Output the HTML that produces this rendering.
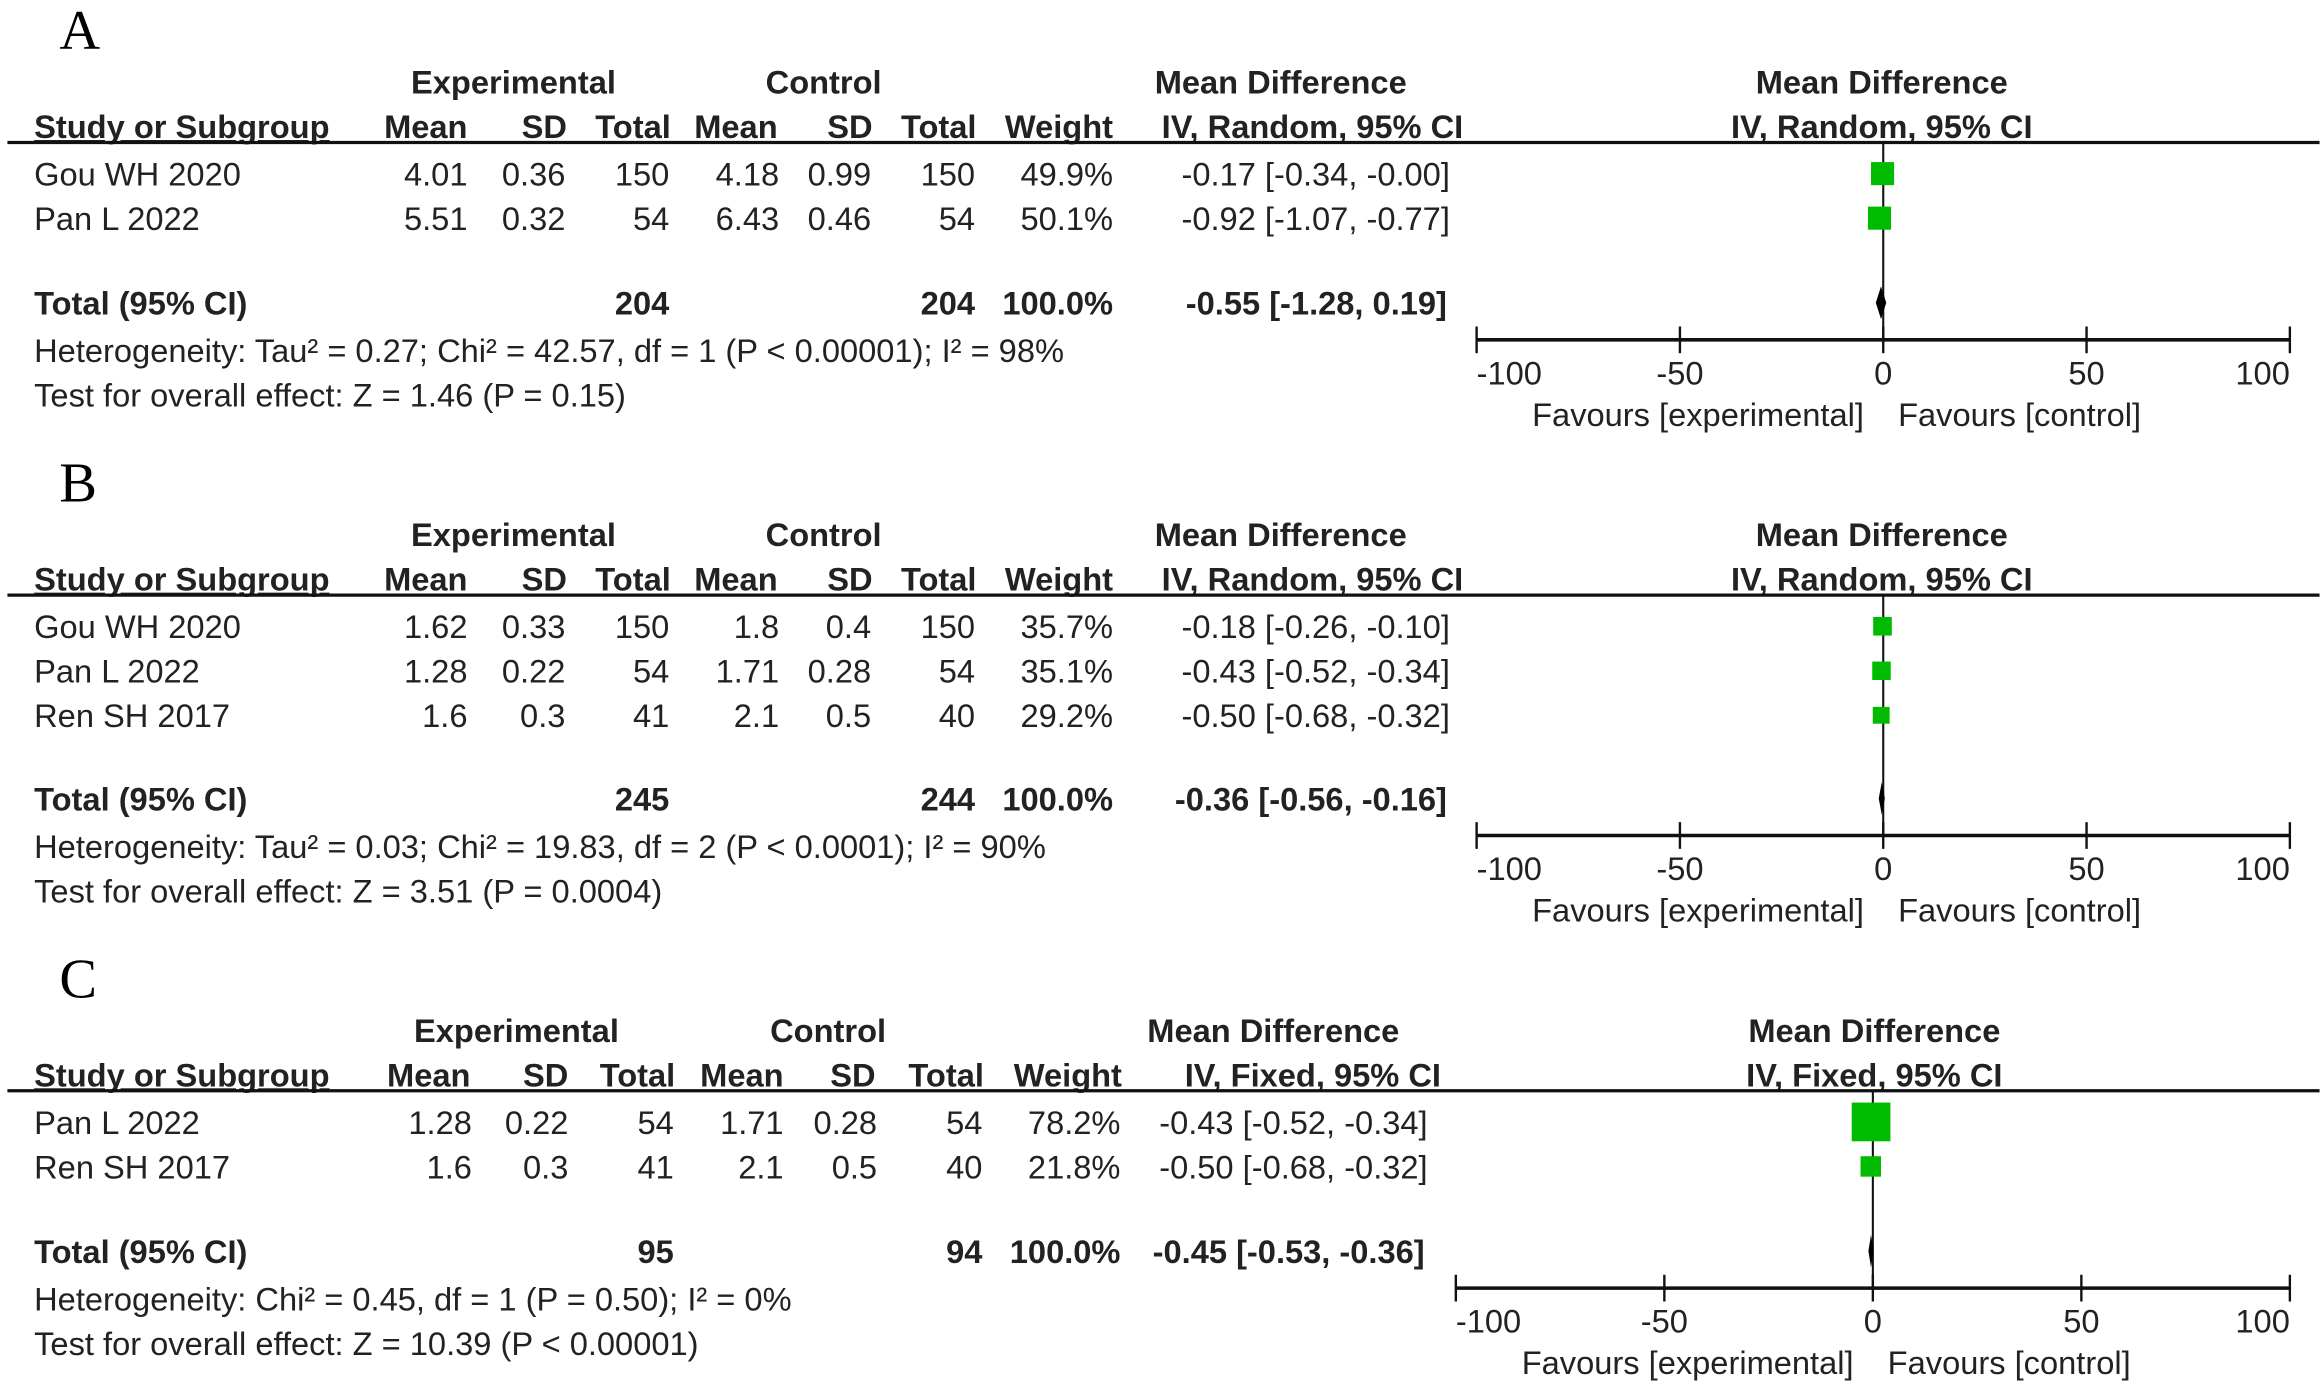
<!DOCTYPE html>
<html><head><meta charset="utf-8">
<style>
html,body{margin:0;padding:0;background:#fff;}
svg{display:block;}
text{font-family:"Liberation Sans",Arial,sans-serif;fill:#222;font-size:22px;}
.b{font-weight:bold;}
.lab{font-family:"Liberation Serif",serif;font-size:38px;fill:#000;}
</style></head>
<body>
<svg id="chart" width="2324" height="1384" viewBox="0 0 1566 932.6" preserveAspectRatio="none" xmlns="http://www.w3.org/2000/svg"></svg>
<script>
// ---- Panel A data ----
const studiesA = ["Gou WH 2020","Pan L 2022"];
const expMeanA = ["4.01","5.51"], expSdA = ["0.36","0.32"], expNA = ["150","54"];
const ctlMeanA = ["4.18","6.43"], ctlSdA = ["0.99","0.46"], ctlNA = ["150","54"];
const weightA = [49.9, 50.1];
const mdA = [-0.17, -0.92], loA = [-0.34, -1.07], hiA = [-0.00, -0.77];
const totalA = {md:-0.55, lo:-1.28, hi:0.19, ne:"204", nc:"204"};
const hetA = "Heterogeneity: Tau² = 0.27; Chi² = 42.57, df = 1 (P < 0.00001); I² = 98%";
const testA = "Test for overall effect: Z = 1.46 (P = 0.15)";
// ---- Panel B data ----
const studiesB = ["Gou WH 2020","Pan L 2022","Ren SH 2017"];
const expMeanB = ["1.62","1.28","1.6"], expSdB = ["0.33","0.22","0.3"], expNB = ["150","54","41"];
const ctlMeanB = ["1.8","1.71","2.1"], ctlSdB = ["0.4","0.28","0.5"], ctlNB = ["150","54","40"];
const weightB = [35.7, 35.1, 29.2];
const mdB = [-0.18, -0.43, -0.50], loB = [-0.26, -0.52, -0.68], hiB = [-0.10, -0.34, -0.32];
const totalB = {md:-0.36, lo:-0.56, hi:-0.16, ne:"245", nc:"244"};
const hetB = "Heterogeneity: Tau² = 0.03; Chi² = 19.83, df = 2 (P < 0.0001); I² = 90%";
const testB = "Test for overall effect: Z = 3.51 (P = 0.0004)";
// ---- Panel C data ----
const studiesC = ["Pan L 2022","Ren SH 2017"];
const expMeanC = ["1.28","1.6"], expSdC = ["0.22","0.3"], expNC = ["54","41"];
const ctlMeanC = ["1.71","2.1"], ctlSdC = ["0.28","0.5"], ctlNC = ["54","40"];
const weightC = [78.2, 21.8];
const mdC = [-0.43, -0.50], loC = [-0.52, -0.68], hiC = [-0.34, -0.32];
const totalC = {md:-0.45, lo:-0.53, hi:-0.36, ne:"95", nc:"94"};
const hetC = "Heterogeneity: Chi² = 0.45, df = 1 (P = 0.50); I² = 0%";
const testC = "Test for overall effect: Z = 10.39 (P < 0.00001)";
const axisTicks = [-100, -50, 0, 50, 100];

const svg = document.getElementById('chart');
const NS = "http://www.w3.org/2000/svg";
function el(tag, attrs, parent){const e=document.createElementNS(NS,tag);for(const k in attrs)e.setAttribute(k,attrs[k]);(parent||svg).appendChild(e);return e;}
function txt(s,x,y,anchor,cls,parent){const t=el('text',{x:x,y:y,'text-anchor':anchor||'start'},parent);if(cls)t.setAttribute('class',cls);t.textContent=s;return t;}
function f2(v){return ((v<0||Object.is(v,-0))?"-":"")+Math.abs(v).toFixed(2);}
function ci(m,l,h){return f2(m)+" ["+f2(l)+", "+f2(h)+"]";}

function panel(P){
  const g = el('g',{});
  
  
  const o = P.oy, c = P.cols;
  const lab = txt(P.id, 40, o-30, 'start', 'lab', g);
  
  
  txt("Experimental", c.expC, o, 'middle', 'b', g);
  txt("Control", c.ctlC, o, 'middle', 'b', g);
  txt("Mean Difference", c.mdC, o, 'middle', 'b', g);
  txt("Mean Difference", P.hdrC, o, 'middle', 'b', g);
  const h2 = o+30;
  const sh = txt("Study or Subgroup", 23, h2, 'start', 'b', g);
  sh.setAttribute('text-decoration','underline');
  txt("Mean", c.m1, h2, 'end', 'b', g); txt("SD", c.s1, h2, 'end', 'b', g); txt("Total", c.n1, h2, 'end', 'b', g);
  txt("Mean", c.m2, h2, 'end', 'b', g); txt("SD", c.s2, h2, 'end', 'b', g); txt("Total", c.n2, h2, 'end', 'b', g);
  txt("Weight", c.w, h2, 'end', 'b', g);
  txt(P.method, c.ciH, h2, 'end', 'b', g);
  txt(P.method, P.hdrC, h2, 'middle', 'b', g);
  const lineY = o+33;
  const hl = el('line',{x1:5,x2:1563,y1:lineY,y2:lineY,stroke:'#111','stroke-width':2.2},g);
  
  
  const xs = v => P.zero + v*(P.ax1-P.zero)/100;
  const axY = P.axY;
  const vl = el('line',{x1:xs(0),x2:xs(0),y1:lineY,y2:axY,stroke:'#111','stroke-width':1.4},g);
  
  
  P.studies.forEach((s,i)=>{
    const y = o+62+30*i;
    const r = el('g',{},g);
    
    
    txt(s,23,y,'start',null,r);
    txt(P.em[i],c.dm1,y,'end',null,r); txt(P.es[i],c.ds1,y,'end',null,r); txt(P.en[i],c.dn1,y,'end',null,r);
    txt(P.cm[i],c.dm2,y,'end',null,r); txt(P.cs[i],c.ds2,y,'end',null,r); txt(P.cn[i],c.dn2,y,'end',null,r);
    txt(P.w[i].toFixed(1)+"%",c.dw,y,'end',null,r);
    txt(ci(P.md[i],P.lo[i],P.hi[i]),c.dci,y,'end',null,r);
    const sz = P.sq*Math.sqrt(P.w[i]);
    const sq = el('rect',{x:xs(P.md[i])-sz/2,y:y-8-sz/2,width:sz,height:sz,fill:'#00bb00'},g);
    
    
  });
  const ty = P.totY;
  const tr = el('g',{},g);
  
  
  txt("Total (95% CI)",23,ty,'start','b',tr);
  txt(P.tot.ne,c.dn1,ty,'end','b',tr); txt(P.tot.nc,c.dn2,ty,'end','b',tr);
  txt("100.0%",c.dw,ty,'end','b',tr);
  txt(ci(P.tot.md,P.tot.lo,P.tot.hi),c.dci-2,ty,'end','b',tr);
  const dy = ty-8;
  const dm = el('polygon',{points:`${xs(P.tot.lo)-1.5},${dy} ${xs(P.tot.md)},${dy-11} ${xs(P.tot.hi)+1.5},${dy} ${xs(P.tot.md)},${dy+11}`,fill:'#000'},g);
  
  
  const hz = txt(P.het,23,ty+32,'start',null,g);
  
  
  const te = txt(P.test,23,ty+62,'start',null,g);
  
  
  const ax = el('g',{},g);
  
  
  el('line',{x1:xs(-100),x2:xs(100),y1:axY,y2:axY,stroke:'#111','stroke-width':2.4},ax);
  axisTicks.forEach((t,i)=>{
    el('line',{x1:xs(t),x2:xs(t),y1:axY-9,y2:axY+9,stroke:'#111','stroke-width':1.6},ax);
    const an = i===0?'start':(i===axisTicks.length-1?'end':'middle');
    const tl = txt(String(t),xs(t),axY+30,an,null,ax);
    
    
  });
  const fe = txt("Favours [experimental]",xs(0)-13,axY+58,'end',null,ax);
  
  
  const fc = txt("Favours [control]",xs(0)+10,axY+58,'start',null,ax);
  
  
}

const colsAB = {expC:346,ctlC:555,mdC:863,m1:315,s1:382,n1:452,m2:524,s2:588,n2:658,w:750,ciH:986,
  dm1:315,ds1:381,dn1:451,dm2:525,ds2:587,dn2:657,dw:750,dci:977};
const colsC = {expC:348,ctlC:558,mdC:858,m1:317,s1:383,n1:455,m2:528,s2:590,n2:663,w:756,ciH:971,
  dm1:318,ds1:383,dn1:454,dm2:528,ds2:591,dn2:662,dw:755,dci:962};

panel({id:"A",oy:63,cols:colsAB,hdrC:1268,method:"IV, Random, 95% CI",zero:1269,ax1:1543,axY:229,totY:212,sq:2.2,
  studies:studiesA,em:expMeanA,es:expSdA,en:expNA,cm:ctlMeanA,cs:ctlSdA,cn:ctlNA,w:weightA,md:mdA,lo:loA,hi:hiA,tot:totalA,het:hetA,test:testA});
panel({id:"B",oy:368,cols:colsAB,hdrC:1268,method:"IV, Random, 95% CI",zero:1269,ax1:1543,axY:563,totY:546,sq:2.1,
  studies:studiesB,em:expMeanB,es:expSdB,en:expNB,cm:ctlMeanB,cs:ctlSdB,cn:ctlNB,w:weightB,md:mdB,lo:loB,hi:hiB,tot:totalB,het:hetB,test:testB});
panel({id:"C",oy:702,cols:colsC,hdrC:1263,method:"IV, Fixed, 95% CI",zero:1262,ax1:1543,axY:868,totY:851,sq:2.95,
  studies:studiesC,em:expMeanC,es:expSdC,en:expNC,cm:ctlMeanC,cs:ctlSdC,cn:ctlNC,w:weightC,md:mdC,lo:loC,hi:hiC,tot:totalC,het:hetC,test:testC});
</script>
</body></html>
